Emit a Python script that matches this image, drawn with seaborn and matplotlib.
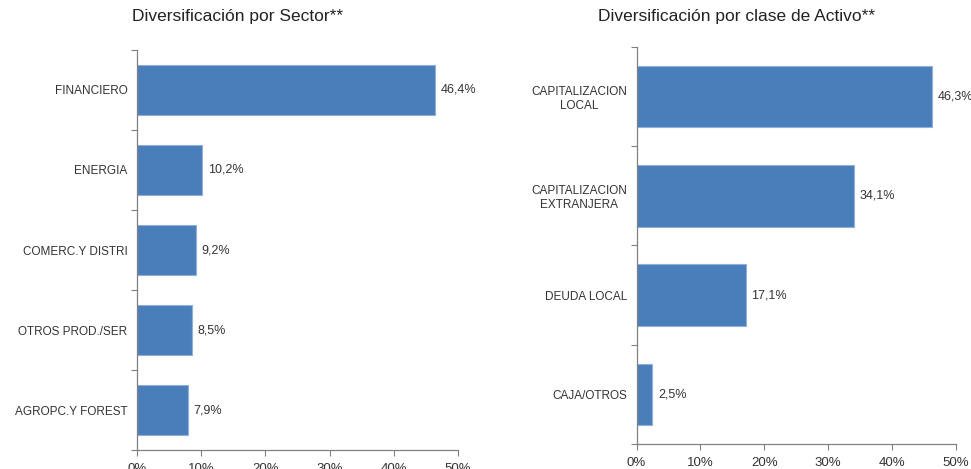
import matplotlib
matplotlib.use("Agg")
import matplotlib.pyplot as plt
import matplotlib.ticker as ticker
import seaborn as sns
import numpy as np

sns.set_style("white")
plt.rcParams['font.family'] = ['Liberation Sans', 'DejaVu Sans']

# datos
sectores = ["FINANCIERO", "ENERGIA", "COMERC.Y DISTRI", "OTROS PROD./SER", "AGROPC.Y FOREST"]
sector_pct = [46.4, 10.2, 9.2, 8.5, 7.9]

clases = ["CAPITALIZACION\nLOCAL", "CAPITALIZACION\nEXTRANJERA", "DEUDA LOCAL", "CAJA/OTROS"]
clase_pct = [46.3, 34.1, 17.1, 2.5]

x_ticks = [0, 10, 20, 30, 40, 50]

titulo_sector = "Diversificación por Sector**"
titulo_clase = "Diversificación por clase de Activo**"

BAR = "#4a7ebb"
EDGE = "#8fb0d8"
AXC = "#808080"
TXT = "#333333"

W, H = 971, 469
fig = plt.figure(figsize=(W / 100, H / 100), dpi=100)


def panel(rect, cats, vals):
    ax = fig.add_axes(rect)
    sns.barplot(x=vals, y=cats, color=BAR, width=0.62, edgecolor=EDGE,
                linewidth=0.8, saturation=1, ax=ax)
    ax.set_xlim(0, 50)
    ax.set_ylim(len(cats) - 0.5, -0.5)
    ax.set_xticks(x_ticks)
    ax.xaxis.set_major_formatter(ticker.FuncFormatter(lambda v, p: f"{v:.0f}%"))
    # marcas del eje y entre categorias
    ax.set_yticks(np.arange(len(cats) + 1) - 0.5, minor=True)
    ax.tick_params(axis="y", which="major", length=0, pad=7, labelsize=8.5, labelcolor=TXT)
    ax.tick_params(axis="y", which="minor", length=4, width=0.8, color=AXC, direction="out", left=True)
    ax.tick_params(axis="x", length=4, width=0.8, color=AXC, direction="out", bottom=True,
                   labelsize=9.5, labelcolor=TXT, pad=5)
    for lab in ax.get_yticklabels():
        lab.set_multialignment("center")
    for s in ["top", "right"]:
        ax.spines[s].set_visible(False)
    for s in ["left", "bottom"]:
        ax.spines[s].set_color(AXC)
        ax.spines[s].set_linewidth(0.9)
    ax.set_xlabel("")
    ax.set_ylabel("")
    ax.bar_label(ax.containers[0], labels=[f"{v:.1f}%".replace(".", ",") for v in vals],
                 padding=4, fontsize=9, color=TXT)
    return ax


ax1 = panel([137 / W, (H - 450) / H, (458 - 137) / W, 400 / H], sectores, sector_pct)
ax2 = panel([636.5 / W, (H - 444) / H, (956 - 636.5) / W, 397 / H], clases, clase_pct)

fig.text(238 / W, 1 - 17 / H, titulo_sector, ha="center", va="center", fontsize=12.5, color="#222222")
fig.text(737 / W, 1 - 17 / H, titulo_clase, ha="center", va="center", fontsize=12.5, color="#222222")

fig.savefig("out.png", dpi=100)
